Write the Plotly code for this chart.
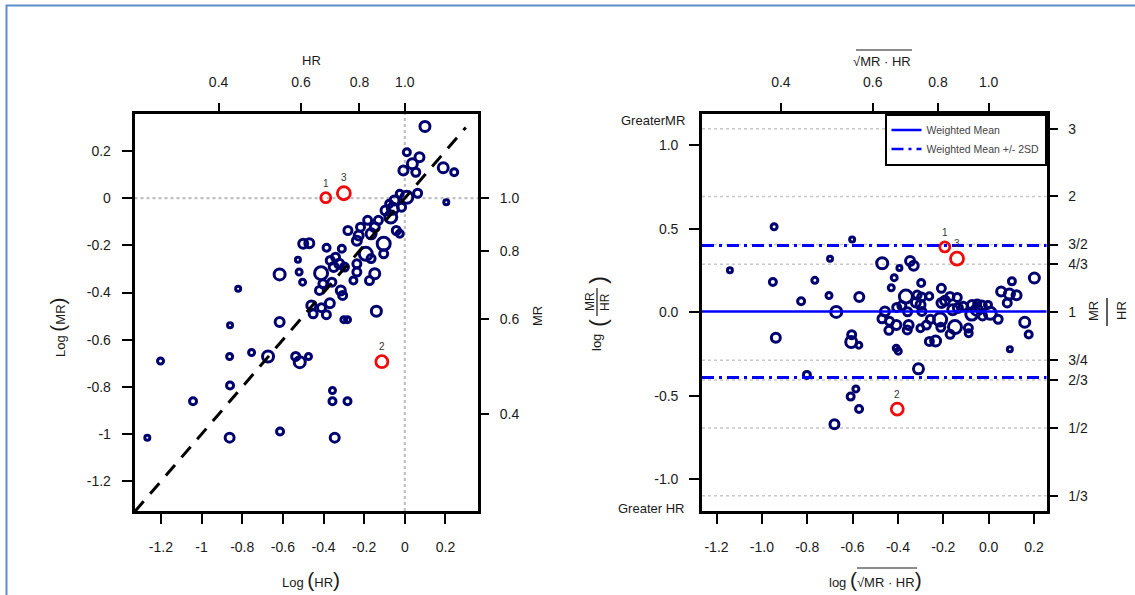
import numpy as np
import plotly.graph_objects as go

W, H = 1135, 595

# ---------------- data (natural-log scale) ----------------
log_hr = [0.099, 0.010, 0.072, 0.037, -0.007, 0.054, 0.189, 0.243, 0.204, 0.063,
          0.010, -0.025, -0.051, -0.077, -0.095, -0.059, -0.016, -0.069, -0.130, -0.148,
          -0.183, -0.218, -0.166, -0.227, -0.104, -0.280, -0.236, -0.042, -0.025, -0.192,
          -0.385, -0.310, -0.341, -0.367, -0.323, -0.350, -0.297, -0.236, -0.236, -0.253,
          -0.174, -0.148, -0.166, -0.104, -0.412, -0.403, -0.359, -0.420, -0.315, -0.306,
          -0.503, -0.520, -0.616, -0.526, -0.500, -0.470, -0.820, -0.460, -0.451, -0.410,
          -0.369, -0.386, -0.300, -0.282, -0.140, -0.616, -0.860, -1.202, -0.862, -0.754,
          -0.673, -0.537, -0.517, -0.474, -0.860, -1.042, -0.356, -0.356, -0.282, -1.267,
          -0.862, -0.614, -0.345]
log_mr = [0.304, 0.195, 0.174, 0.146, 0.117, 0.110, 0.129, 0.110, -0.017, 0.021,
          0.004, 0.019, -0.010, -0.024, -0.052, -0.045, -0.038, -0.080, -0.094, -0.123,
          -0.094, -0.123, -0.151, -0.158, -0.193, -0.137, -0.180, -0.137, -0.151, -0.236,
          -0.210, -0.214, -0.250, -0.264, -0.278, -0.292, -0.292, -0.278, -0.313, -0.349,
          -0.349, -0.320, -0.256, -0.236, -0.318, -0.363, -0.356, -0.391, -0.391, -0.412,
          -0.356, -0.313, -0.323, -0.261, -0.193, -0.191, -0.384, -0.455, -0.490, -0.464,
          -0.445, -0.494, -0.515, -0.515, -0.479, -0.525, -0.539, -0.690, -0.671, -0.654,
          -0.671, -0.671, -0.695, -0.671, -0.794, -0.861, -0.815, -0.861, -0.861, -1.015,
          -1.015, -0.989, -1.015]
weight_size = [10, 7, 9, 10, 9, 8, 10, 7, 5, 8,
               12, 7, 9, 7, 9, 11, 8, 12, 8, 9,
               8, 8, 10, 9, 13, 8, 9, 8, 7, 13,
               7, 7, 8, 8, 9, 9, 8, 8, 8, 7,
               8, 10, 8, 8, 13, 8, 8, 8, 9, 8,
               6, 6, 11, 5, 9, 9, 5, 9, 8, 8,
               9, 8, 6, 6, 10, 9, 5, 6, 6, 6,
               11, 8, 11, 6, 7, 7, 6, 7, 7, 5,
               9, 7, 9]

red_log_hr = [-0.389, -0.113, -0.300]
red_log_mr = [0.002, -0.693, 0.021]
red_size = [10, 12, 13]
red_labels = ["1", "2", "3"]

weighted_mean = 0.005
sd2_upper = 0.40
sd2_lower = -0.39

hr_ticks = [0.4, 0.6, 0.8, 1.0]
hr_tick_text = ["0.4", "0.6", "0.8", "1.0"]
left_x_ticks = [-1.2, -1.0, -0.8, -0.6, -0.4, -0.2, 0.0, 0.2]
left_x_text = ["-1.2", "-1", "-0.8", "-0.6", "-0.4", "-0.2", "0", "0.2"]
left_y_ticks = [0.2, 0.0, -0.2, -0.4, -0.6, -0.8, -1.0, -1.2]
left_y_text = ["0.2", "0", "-0.2", "-0.4", "-0.6", "-0.8", "-1", "-1.2"]
right_x_ticks = [-1.2, -1.0, -0.8, -0.6, -0.4, -0.2, 0.0, 0.2]
right_x_text = ["-1.2", "-1.0", "-0.8", "-0.6", "-0.4", "-0.2", "0.0", "0.2"]
right_y_ticks = [1.0, 0.5, 0.0, -0.5, -1.0]
right_y_text = ["1.0", "0.5", "0.0", "-0.5", "-1.0"]
ratio_ticks = [3, 2, 3 / 2, 4 / 3, 1, 3 / 4, 2 / 3, 1 / 2, 1 / 3]
ratio_text = ["3", "2", "3/2", "4/3", "1", "3/4", "2/3", "1/2", "1/3"]
ratio_grid = [3, 2, 3 / 2, 4 / 3, 3 / 4, 2 / 3, 1 / 2, 1 / 3]

# ---------------- derived (Bland-Altman style) ----------------
lhr, lmr = np.array(log_hr), np.array(log_mr)
ba_x = (lhr + lmr) / 2
ba_y = lmr - lhr
rlhr, rlmr = np.array(red_log_hr), np.array(red_log_mr)
rba_x = (rlhr + rlmr) / 2
rba_y = rlmr - rlhr

NAVY = "#00006e"
RED = "#f00a0a"
FONT = "Liberation Sans, Arial, sans-serif"
TXT = "#1a1a1a"

def px(x):
    return x / W

def py(y):
    return 1 - y / H

L_RANGE = [-1.33, 0.36]
LY_RANGE = [-1.326, 0.359]
R_XRANGE = [-1.264, 0.255]
R_YRANGE = [-1.19, 1.19]

fig = go.Figure()

mk = dict(symbol="circle-open", size=weight_size, color=NAVY, opacity=1,
          line=dict(width=3, color=NAVY))
rmk = dict(symbol="circle-open", size=red_size, color=RED, opacity=1,
           line=dict(width=2.8, color=RED))

fig.add_trace(go.Scatter(x=log_hr, y=log_mr, mode="markers", xaxis="x", yaxis="y",
                         marker=mk, showlegend=False, hoverinfo="skip"))
fig.add_trace(go.Scatter(x=red_log_hr, y=red_log_mr, mode="markers", xaxis="x", yaxis="y",
                         marker=rmk, showlegend=False, hoverinfo="skip"))
fig.add_trace(go.Scatter(x=ba_x, y=ba_y, mode="markers", xaxis="x2", yaxis="y2",
                         marker=mk, showlegend=False, hoverinfo="skip"))
fig.add_trace(go.Scatter(x=rba_x, y=rba_y, mode="markers", xaxis="x2", yaxis="y2",
                         marker=rmk, showlegend=False, hoverinfo="skip"))
# legend entries
fig.add_trace(go.Scatter(x=[None], y=[None], mode="lines", xaxis="x2", yaxis="y2",
                         line=dict(color="blue", width=2.5), name="Weighted Mean"))
fig.add_trace(go.Scatter(x=[None], y=[None], mode="lines", xaxis="x2", yaxis="y2",
                         line=dict(color="blue", width=2.5, dash="12px,5px,3px,5px"),
                         name="Weighted Mean +/- 2SD"))
# invisible anchors for secondary axes
fig.add_trace(go.Scatter(x=[0], y=[0], xaxis="x3", yaxis="y3", mode="markers",
                         marker=dict(opacity=0), showlegend=False, hoverinfo="skip"))
fig.add_trace(go.Scatter(x=[0], y=[0], xaxis="x4", yaxis="y4", mode="markers",
                         marker=dict(opacity=0), showlegend=False, hoverinfo="skip"))

common = dict(showgrid=False, zeroline=False, ticks="outside", ticklen=10, tickwidth=1.6,
              tickcolor="black", tickfont=dict(size=14, color=TXT, family=FONT),
              automargin=False, fixedrange=True)
box = dict(showline=True, mirror=True, linewidth=2.6, linecolor="black")

LDOM_X = [px(134.5), px(478)]
RDOM_X = [px(702), px(1046.5)]
DOM_Y = [py(511), py(113.5)]

fig.update_layout(
    width=W, height=H, margin=dict(l=0, r=0, t=0, b=0),
    paper_bgcolor="white", plot_bgcolor="white",
    font=dict(family=FONT, color=TXT),
    xaxis=dict(domain=LDOM_X, range=L_RANGE, anchor="y", tickvals=left_x_ticks,
               ticktext=left_x_text, ticklabelstandoff=11, **box, **common),
    yaxis=dict(domain=DOM_Y, range=LY_RANGE, anchor="x", tickvals=left_y_ticks,
               ticktext=left_y_text, ticklabelstandoff=8, **box, **common),
    xaxis3=dict(overlaying="x", side="top", anchor="y", range=L_RANGE,
                tickvals=list(np.log(hr_ticks)), ticktext=hr_tick_text, showline=False,
                ticklabelstandoff=10, **common),
    yaxis3=dict(overlaying="y", side="right", anchor="x", range=LY_RANGE,
                tickvals=list(np.log(hr_ticks)), ticktext=hr_tick_text, showline=False,
                ticklabelstandoff=8, **common),
    xaxis2=dict(domain=RDOM_X, range=R_XRANGE, anchor="y2", tickvals=right_x_ticks,
                ticktext=right_x_text, ticklabelstandoff=11, **box, **common),
    yaxis2=dict(domain=DOM_Y, range=R_YRANGE, anchor="x2", tickvals=right_y_ticks,
                ticktext=right_y_text, ticklabelstandoff=8, **box, **common),
    xaxis4=dict(overlaying="x2", side="top", anchor="y2", range=R_XRANGE,
                tickvals=list(np.log(hr_ticks)), ticktext=hr_tick_text, showline=False,
                ticklabelstandoff=10, **common),
    yaxis4=dict(overlaying="y2", side="right", anchor="x2", range=R_YRANGE,
                tickvals=list(np.log(ratio_ticks)), ticktext=ratio_text, showline=False,
                ticklabelstandoff=8, **common),
    legend=dict(x=RDOM_X[1], y=DOM_Y[1], xanchor="right", yanchor="top",
                bordercolor="black", borderwidth=2, bgcolor="white",
                font=dict(size=10.5, color="#444", family=FONT),
                tracegroupgap=0, itemwidth=30),
    showlegend=True,
)

shapes = []
# outer slide frame
shapes.append(dict(type="rect", xref="paper", yref="paper", x0=px(6.5), x1=px(1145),
                   y0=py(605), y1=py(5.5), line=dict(color="#5f8bcc", width=2)))
# left panel reference lines
shapes.append(dict(type="line", xref="x", yref="y domain", x0=0, x1=0, y0=0, y1=1,
                   line=dict(color="#c0c0c0", width=2.2, dash="dot"), layer="below"))
shapes.append(dict(type="line", xref="x domain", yref="y", x0=0, x1=1, y0=0, y1=0,
                   line=dict(color="#c0c0c0", width=2.2, dash="dot"), layer="below"))
shapes.append(dict(type="line", xref="x", yref="y", x0=L_RANGE[0], y0=L_RANGE[0], x1=0.30, y1=0.30,
                   line=dict(color="black", width=3, dash="14px,10px")))
# right panel reference lines
for r in ratio_grid:
    shapes.append(dict(type="line", xref="x2 domain", yref="y2", x0=0, x1=1,
                       y0=float(np.log(r)), y1=float(np.log(r)),
                       line=dict(color="#c8c8c8", width=1.5, dash="dot"), layer="below"))
shapes.append(dict(type="line", xref="x2 domain", yref="y2", x0=0, x1=1,
                   y0=weighted_mean, y1=weighted_mean, line=dict(color="blue", width=2.5)))
for v in (sd2_upper, sd2_lower):
    shapes.append(dict(type="line", xref="x2 domain", yref="y2", x0=0, x1=1, y0=v, y1=v,
                       line=dict(color="blue", width=3, dash="12px,5px,3px,5px")))
# overlines for sqrt signs
shapes.append(dict(type="line", xref="paper", yref="paper", x0=px(856), x1=px(912),
                   y0=py(50), y1=py(50), line=dict(color=TXT, width=1.2)))
shapes.append(dict(type="line", xref="paper", yref="paper", x0=px(857), x1=px(917),
                   y0=py(568), y1=py(568), line=dict(color=TXT, width=1.2)))
# fraction bars for rotated MR/HR titles
shapes.append(dict(type="line", xref="paper", yref="paper", x0=px(597), x1=px(597),
                   y0=py(288), y1=py(316), line=dict(color=TXT, width=1.2)))
shapes.append(dict(type="line", xref="paper", yref="paper", x0=px(1107), x1=px(1107),
                   y0=py(298), y1=py(326), line=dict(color=TXT, width=1.4)))
fig.update_layout(shapes=shapes)

ann = []

def txt(x, y, s, size=13, angle=0, xanchor="center", yanchor="middle"):
    ann.append(dict(xref="paper", yref="paper", x=px(x), y=py(y), text=s, showarrow=False,
                    textangle=angle, xanchor=xanchor, yanchor=yanchor,
                    font=dict(size=size, color=TXT, family=FONT)))

P = "<span style='font-size:21px'>(</span>"
Q = "<span style='font-size:21px'>)</span>"
txt(311, 61, "HR")
txt(311, 579, "Log " + P + "HR" + Q)
txt(57, 327, "Log " + P + "MR" + Q, angle=-90)
txt(537, 316, "MR", angle=-90)
txt(882, 62, "√MR · HR")
txt(875, 579, "log " + P + "√MR · HR" + Q)
txt(653, 121, "GreaterMR")
txt(651, 508, "Greater HR")
# left title of right panel: log(MR/HR)
txt(597, 343, "log", angle=-90)
txt(590, 302, "MR", angle=-90, size=12)
txt(605, 302, "HR", angle=-90, size=12)
txt(597, 323, "(", angle=-90, size=24)
txt(597, 280, ")", angle=-90, size=24)
# right title of right panel: MR/HR
txt(1093, 311, "MR", angle=-90, size=13)
txt(1121, 311, "HR", angle=-90, size=13)

# point labels
for xs, ys in [(red_log_hr, red_log_mr), (list(rba_x), list(rba_y))]:
    xr, yr = ("x", "y") if xs is red_log_hr else ("x2", "y2")
    for xv, yv, s, lb in zip(xs, ys, red_size, red_labels):
        ann.append(dict(xref=xr, yref=yr, x=float(xv), y=float(yv), text=lb, showarrow=False,
                        yshift=s / 2 + 9, font=dict(size=10, color="#333", family=FONT)))

fig.update_layout(annotations=ann)
fig.write_html("out.html", config={"displayModeBar": False},
               post_script="document.body.style.margin='0';document.body.style.overflow='hidden';")
